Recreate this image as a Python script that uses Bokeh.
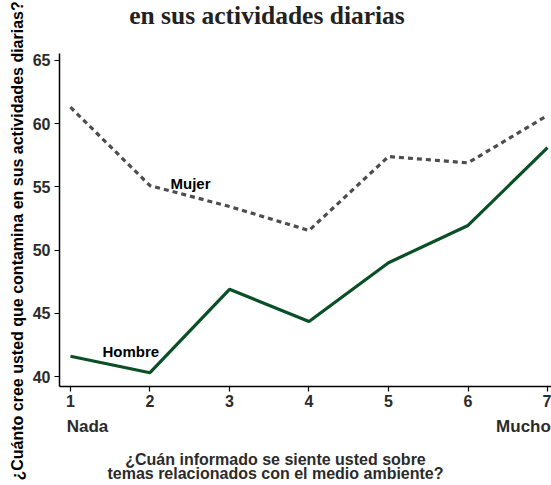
import json
from bokeh.plotting import figure
from bokeh.models import (Range1d, Label, FixedTicker, Title, LinearAxis,
                          CustomJSTickFormatter)
from bokeh.embed import file_html
from bokeh.resources import INLINE

# ---- data ----
x_levels = [1, 2, 3, 4, 5, 6, 7]
hombre = [41.6, 40.3, 46.9, 44.35, 49.0, 51.95, 58.1]
mujer = [61.3, 55.1, 53.45, 51.55, 57.4, 56.9, 60.65]
y_ticks = [40, 45, 50, 55, 60, 65]
title_text = "en sus actividades diarias"
y_label = "¿Cuánto cree usted que contamina en sus actividades diarias?"
x_label_lines = ["¿Cuán informado se siente usted sobre",
                 "temas relacionados con el medio ambiente?"]
x_end_labels = ["Nada", "Mucho"]
series_names = ["Hombre", "Mujer"]

# ---- geometry (canvas px) ----
W, H = 551, 485
fl, fr, ft, fb = 59, 551, 53, 386   # plotted area edges (axis extents)
x0, x1 = 0.862, 7.05
y0, y1 = 39.21, 65.55

def dx(px):
    return x0 + (px - fl) * (x1 - x0) / (fr - fl)

def dy(py):
    return y1 - (py - ft) * (y1 - y0) / (fb - ft)

# frame reaches the canvas top so the title can sit inside it
p = figure(width=W, height=H, output_backend="svg", toolbar_location=None,
           x_range=Range1d(x0, x1), y_range=Range1d(y0, dy(0)),
           min_border_left=fl, min_border_right=W - fr,
           min_border_top=0, min_border_bottom=H - fb)
p.outline_line_color = None
p.xgrid.visible = False
p.ygrid.visible = False
p.background_fill_color = "white"
p.border_fill_color = "white"

for ax in (p.xaxis[0], p.yaxis[0]):
    ax.axis_line_color = "black"
    ax.axis_line_width = 1.5
    ax.major_tick_line_color = "black"
    ax.major_tick_line_width = 1.2
    ax.major_tick_out = 5
    ax.major_tick_in = 0
    ax.minor_tick_line_color = None
    ax.major_label_text_font = "Liberation Sans"
    ax.major_label_text_font_style = "bold"
    ax.major_label_text_font_size = "16px"
    ax.major_label_text_color = "#2b2b2b"

p.xaxis.ticker = FixedTicker(ticks=x_levels)
p.yaxis.ticker = FixedTicker(ticks=y_ticks)
p.yaxis.bounds = (y0, y1)
p.xaxis.major_label_standoff = 3
p.yaxis.major_label_standoff = 4

def text_axis(ticks, labels, size, standoff, line_height=1.0):
    code = "const labs = %s; const t = %s; let k = 0; let d = 1e9;" \
           " for (let i = 0; i < t.length; i++) { const e = Math.abs(t[i] - tick);" \
           " if (e < d) { d = e; k = i; } } return labs[k];" % (
               json.dumps(labels), json.dumps(ticks))
    return LinearAxis(
        ticker=FixedTicker(ticks=ticks),
        formatter=CustomJSTickFormatter(code=code),
        axis_line_color=None, major_tick_line_color=None,
        minor_tick_line_color=None, major_tick_out=0, major_tick_in=0,
        major_label_standoff=standoff,
        major_label_text_font="Liberation Sans",
        major_label_text_font_style="bold",
        major_label_text_font_size=size, major_label_text_color="#2b2b2b",
        major_label_text_line_height=line_height)

# "Nada" / "Mucho" under the end ticks
p.add_layout(text_axis([dx(87), dx(523)], x_end_labels, "17px", 7), "below")
# two-line x-axis title
p.add_layout(text_axis([dx(275)], ["\n".join(x_label_lines)], "16px", 12, 0.84),
             "below")

# y-axis title
p.add_layout(Title(text=y_label, align="left", offset=-94,
                   text_font="Liberation Sans", text_font_style="bold",
                   text_font_size="16px", text_color="black", standoff=8), "left")

p.line(x_levels, mujer, line_color="#4d4d4f", line_width=3.2, line_dash="5 4")
p.line(x_levels, hombre, line_color="#0a4f26", line_width=3.2)

def lab(text, px, py, size="15px", font="Liberation Sans", align="left",
        baseline="middle", color="black"):
    p.add_layout(Label(x=dx(px), y=dy(py), text=text, text_font=font,
                       text_font_style="bold", text_font_size=size,
                       text_align=align, text_baseline=baseline, text_color=color))

lab(series_names[1], 170, 183)
lab(series_names[0], 102, 351)
lab(title_text, 266.5, 14.5, size="25.5px", font="Liberation Serif", align="center",
    baseline="middle", color="#222222")

open("out.html", "w").write(file_html(p, INLINE))
